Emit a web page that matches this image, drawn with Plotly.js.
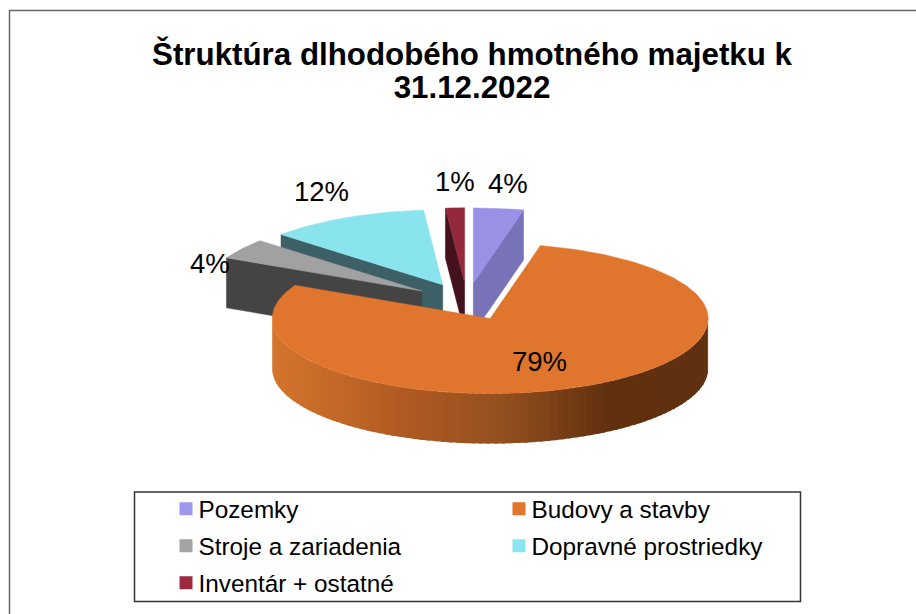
<!DOCTYPE html>
<html><head><meta charset="utf-8">
<script src="https://cdn.plot.ly/plotly-3.0.1.min.js"></script>
<style>html,body{margin:0;padding:0;background:#fff}#c{width:916px;height:614px}</style>
</head><body><div id="c"></div>
<script>
// Data
const categories = ['Pozemky','Budovy a stavby','Stroje a zariadenia','Dopravné prostriedky','Inventár + ostatné'];
const shares = [3.7, 78.6, 4.4, 11.9, 1.4];
const titleLines = ['Štruktúra dlhodobého hmotného majetku k','31.12.2022'];

// Styles
const topColors  = ['#9a90e6','#e0752e','#a1a1a1','#8ae4ee','#94293b'];
const wallColors = ['#7872b8','#5f3110','#444444','#3c6065','#43121c'];
const swatchColors = ['#9f97ee','#e0752e','#a3a3a3','#8be4ee','#9c2a3f'];
const W = 916, H = 614;
const CX = 467, CY = 301.6, RX = 218, RY = 75, DEPTH = 50/75, PULL = 0.25;
const labelPos = [[508,183],[539,361],[210,263],[321,192],[455,181]];
const legendPos = [[166,509],[499,509],[166,546],[499,546],[166,583]];
const legendTextShift = -7.5;
const drawOrder = [3,2,4,0,1];

const rad = d => d*Math.PI/180;
const total = shares.reduce((a,b)=>a+b,0);
let acc = 0;
const slices = shares.map(v => { const a0 = acc/total*360; acc += v; const a1 = acc/total*360;
  const mid = (a0+a1)/2;
  return {a0,a1,ox:PULL*Math.sin(rad(mid)),oy:PULL*Math.cos(rad(mid))}; });
const px = (s,a) => s.ox+Math.sin(rad(a));
const py = (s,a) => s.oy+Math.cos(rad(a));
const hex = c => [1,3,5].map(i=>parseInt(c.substr(i,2),16));
function poly(xs,ys,color,lw){
  return {type:'scatter',mode:'lines',x:xs.concat(xs[0]),y:ys.concat(ys[0]),fill:'toself',fillcolor:color,
    line:{color:color,width:lw===undefined?0.5:lw},hoverinfo:'skip',showlegend:false};
}
function radialWall(s,a,color){
  const xe=px(s,a), ye=py(s,a);
  return poly([s.ox,xe,xe,s.ox],[s.oy,ye,ye-DEPTH,s.oy-DEPTH],color);
}
function topFace(s,color){
  const xs=[s.ox], ys=[s.oy];
  for(let a=s.a0;a<s.a1;a+=1){xs.push(px(s,a));ys.push(py(s,a));}
  xs.push(px(s,s.a1));ys.push(py(s,s.a1));
  return poly(xs,ys,color);
}
// gradient along the visible rim of the large slice, by horizontal position
const rimStops = [[-1,'#d4752d'],[-0.4,'#b05a22'],[0.05,'#94501f'],[0.55,'#60300f'],[1,'#5f3110']];
function rimColor(u){
  for(let i=1;i<rimStops.length;i++){
    if(u<=rimStops[i][0]){
      const [u0,c0]=rimStops[i-1],[u1,c1]=rimStops[i];
      const t=(u-u0)/(u1-u0), a=hex(c0), b=hex(c1);
      return 'rgb('+a.map((v,k)=>Math.round(v+(b[k]-v)*t)).join(',')+')';
    }
  }
  return rimStops[rimStops.length-1][1];
}
const traces=[];
drawOrder.forEach(i=>{
  const s=slices[i];
  if(i===1){
    // strips overlap the next one so that no seams show; drawn from right to left
    for(let a=90;a<270;a+=2){
      const b=Math.min(a+3,270), xs=[],ys=[],xb=[],yb=[];
      for(let t=a;t<=b;t+=0.5){xs.push(px(s,t));ys.push(py(s,t));xb.unshift(px(s,t));yb.unshift(py(s,t)-DEPTH);}
      traces.push(poly(xs.concat(xb),ys.concat(yb),rimColor(Math.sin(rad(a+1))),0));
    }
  } else if(i===0){ traces.push(radialWall(s,s.a1,wallColors[i])); }
  else { traces.push(radialWall(s,s.a0,wallColors[i])); }
  traces.push(topFace(s,topColors[i]));
});
// legend entries
categories.forEach((c,i)=>{
  traces.push({type:'scatter',mode:'markers',x:[null],y:[null],name:c,
    marker:{symbol:'square',size:13,color:swatchColors[i]},
    legend:i===0?'legend':'legend'+(i+1),showlegend:true,hoverinfo:'skip'});
});
const layout={
  width:W,height:H,margin:{l:0,r:0,t:0,b:0},paper_bgcolor:'#fff',plot_bgcolor:'#fff',
  font:{family:'"Liberation Sans",Arial,sans-serif',color:'#000'},
  title:{text:titleLines.join('<br>'),x:472/W,xanchor:'center',y:1-65/H,yanchor:'middle',
    font:{size:31.3,color:'#000',family:'"Liberation Sans",Arial,sans-serif',weight:'bold'}},
  xaxis:{visible:false,range:[-CX/RX,(W-CX)/RX],fixedrange:true},
  yaxis:{visible:false,range:[(CY-H)/RY,CY/RY],fixedrange:true},
  shapes:[
    {type:'line',xref:'paper',yref:'paper',x0:9.5/W,x1:9.5/W,y0:0,y1:1-10/H,line:{color:'#666',width:1.5}},
    {type:'line',xref:'paper',yref:'paper',x0:9.5/W,x1:1,y0:1-10.5/H,y1:1-10.5/H,line:{color:'#666',width:1.5}},
    {type:'rect',xref:'paper',yref:'paper',x0:134.5/W,x1:800.5/W,y0:1-601.5/H,y1:1-492/H,line:{color:'#333',width:1.5},fillcolor:'rgba(0,0,0,0)'}
  ],
  annotations:shares.map((v,i)=>({text:Math.round(v)+'%',xref:'paper',yref:'paper',
    x:labelPos[i][0]/W,y:1-labelPos[i][1]/H,xanchor:'center',yanchor:'middle',showarrow:false,
    font:{size:27.5,color:'#000'}})),
  showlegend:true
};
categories.forEach((c,i)=>{
  layout[i===0?'legend':'legend'+(i+1)]={x:legendPos[i][0]/W,y:1-legendPos[i][1]/H,xanchor:'left',yanchor:'middle',
    bgcolor:'rgba(0,0,0,0)',borderwidth:0,font:{size:24.3,color:'#000'},itemsizing:'trace',orientation:'v'};
});
Plotly.newPlot('c',traces,layout,{displayModeBar:false,staticPlot:true}).then(()=>{
  const lines=document.querySelectorAll('.gtitle tspan.line');
  if(lines[1]) lines[1].setAttribute('dy','33px');
  document.querySelectorAll('[class^="legend"][class$="text"]').forEach(t=>{
    t.style.transform='translateX('+legendTextShift+'px)';
  });
});
</script>
</body></html>
